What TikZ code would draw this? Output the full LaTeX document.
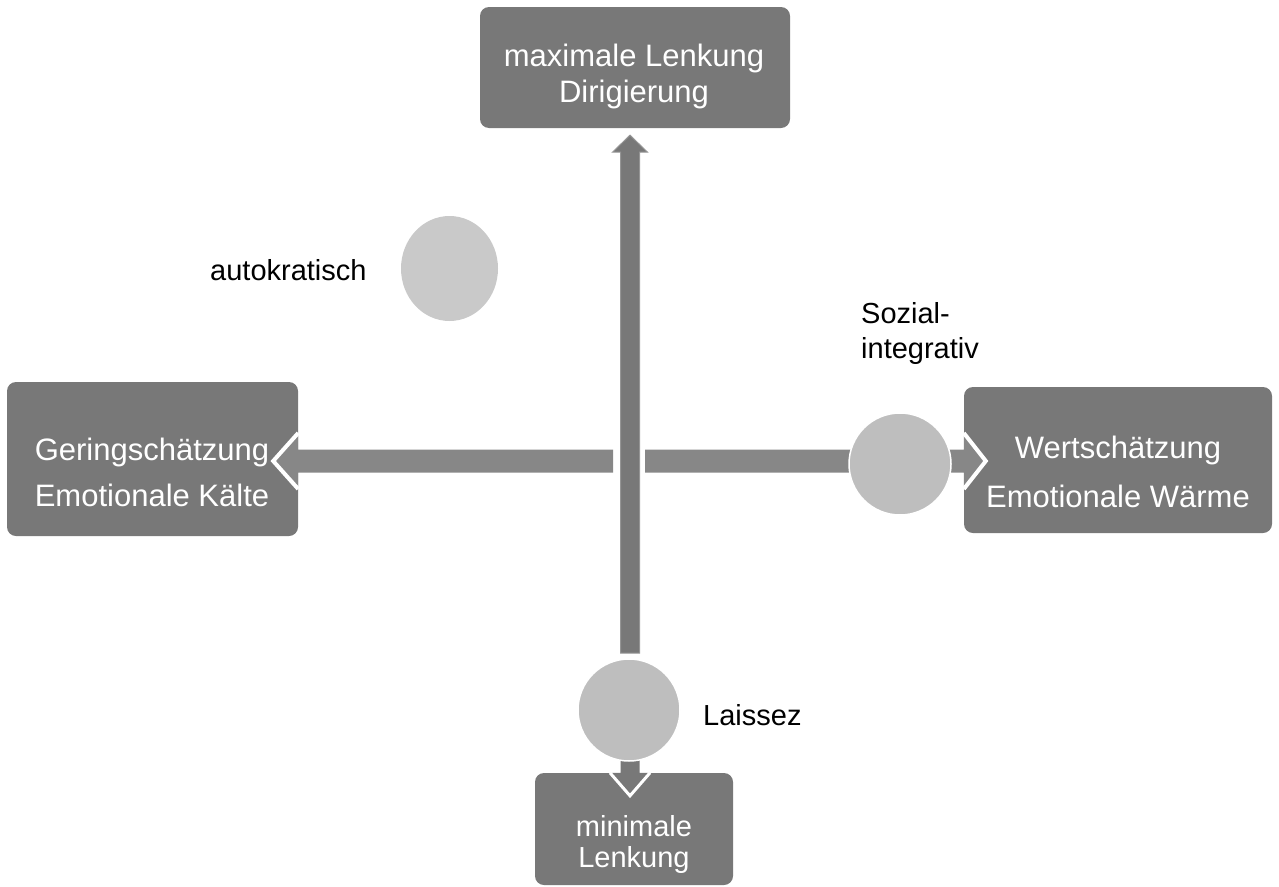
\documentclass[tikz,border=0pt]{standalone}
\usepackage{fontspec}
\setmainfont{Liberation Sans}
\usetikzlibrary{calc,shapes.geometric}
\definecolor{boxgray}{HTML}{787878}
\definecolor{vgray}{HTML}{787878}
\definecolor{vedge}{HTML}{959595}
\definecolor{hgray}{HTML}{878787}
\definecolor{bubblegray}{HTML}{BEBEBE}
\definecolor{autogray}{HTML}{C9C9C9}
\begin{document}
\begin{tikzpicture}[x=1pt,y=-1pt,
  box/.style={rectangle, rounded corners=9pt, fill=boxgray, inner sep=0pt},
  bubble/.style={circle, fill=bubblegray, draw=white, line width=1.5pt, inner sep=0pt, minimum size=102pt},
  boxtext/.style={text=white, inner sep=0pt, align=center, anchor=base},
  lbl/.style={text=black, inner sep=0pt, anchor=base west, font=\fontsize{29}{35}\selectfont},
  headline/.style={draw=white, line join=miter},
  vbody/.style={fill=vgray, draw=vedge, line width=1pt},
]
\path[use as bounding box] (0,0) rectangle (1279,886);

% boxes
\node[box, minimum width=310pt, minimum height=121pt] (topbox) at (635,67.5) {};
\node[box, minimum width=291pt, minimum height=154pt] (leftbox) at (152.5,459) {};
\node[box, minimum width=308pt, minimum height=146pt] (rightbox) at (1118,460) {};
\node[box, minimum width=198pt, minimum height=112pt] (bottombox) at (634,829) {};

% arrow end points
\coordinate (ltail) at (613,461);
\coordinate (rtail) at (645,461);
\coordinate (vtail) at (630,653);
\coordinate (vtip) at ($(topbox.south)+(-5,7)$);
\coordinate (dstart) at (630,720);
\coordinate (lbase) at (leftbox.east |- ltail);
\coordinate (rbase) at (rightbox.west |- rtail);
\coordinate (dbase) at (dstart |- bottombox.north);

% left arrow
\fill[hgray] ($(ltail)+(0,-11.5)$) -- ($(lbase)+(0,-11.5)$) -- ($(lbase)+(0,-28)$)
  -- ($(lbase)+(-25,0)$) -- ($(lbase)+(0,28)$) -- ($(lbase)+(0,11.5)$) -- ($(ltail)+(0,11.5)$) -- cycle;
\draw[headline, line width=4pt] ($(lbase)+(0,-28)$) -- ($(lbase)+(-25,0)$) -- ($(lbase)+(0,28)$);

% right arrow
\fill[hgray] ($(rtail)+(0,-11.5)$) -- ($(rbase)+(0,-11.5)$) -- ($(rbase)+(0,-28)$)
  -- ($(rbase)+(22,0)$) -- ($(rbase)+(0,28)$) -- ($(rbase)+(0,11.5)$) -- ($(rtail)+(0,11.5)$) -- cycle;
\draw[headline, line width=4pt] ($(rbase)+(0,-28)$) -- ($(rbase)+(22,0)$) -- ($(rbase)+(0,28)$);

% vertical up arrow
\path[vbody] ($(vtail)+(-9.5,0)$) -- ($(vtip)+(-9.5,17)$) -- ($(vtip)+(-17.5,17)$) -- (vtip)
  -- ($(vtip)+(17.5,17)$) -- ($(vtip)+(9.5,17)$) -- ($(vtail)+(9.5,0)$) -- cycle;

% down arrow into bottom box
\fill[vgray] ($(dstart)+(-9.5,0)$) -- ($(dbase)+(-9.5,0)$) -- ($(dbase)+(-20,0)$) -- ($(dbase)+(0,23)$)
  -- ($(dbase)+(20,0)$) -- ($(dbase)+(9.5,0)$) -- ($(dstart)+(9.5,0)$) -- cycle;
\draw[headline, line width=3pt] ($(dbase)+(-20,0)$) -- ($(dbase)+(0,23)$) -- ($(dbase)+(20,0)$);

% circles
\node[bubble] (rightcirc) at (900,464) {};
\node[bubble] (bottomcirc) at (629,710) {};
\node[ellipse, fill=autogray, minimum width=97pt, minimum height=105pt, inner sep=0pt] (autocirc) at (449.5,268.5) {};

% box texts (anchor base = baseline of the last line)
\node[boxtext, font=\fontsize{31}{36}\selectfont] (toptext) at (634,102) {maximale Lenkung\\Dirigierung};
\node[boxtext, font=\fontsize{31}{46}\selectfont] (lefttext) at (152,506) {Geringschätzung\\Emotionale Kälte};
\node[boxtext, font=\fontsize{31}{49}\selectfont] (righttext) at (1118,507) {Wertschätzung\\Emotionale Wärme};
\node[boxtext, font=\fontsize{29}{31}\selectfont] (bottomtext) at (634,867) {minimale\\Lenkung};

% labels
\node[lbl] (autolbl) at (210,280) {autokratisch};
\node[lbl, align=left] (soziallbl) at (861,358) {Sozial-\\integrativ};
\node[lbl] (laissezlbl) at (703,725) {Laissez};
\end{tikzpicture}
\end{document}
